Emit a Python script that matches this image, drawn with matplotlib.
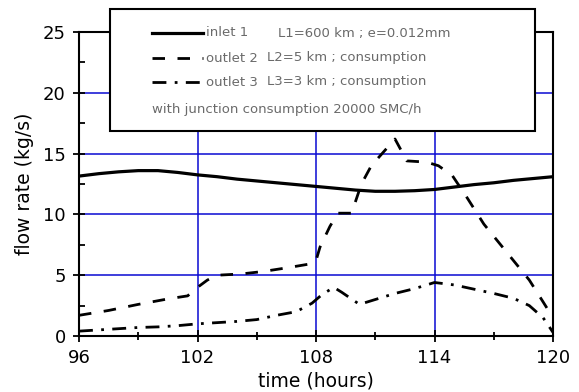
import matplotlib
matplotlib.use("Agg")
import matplotlib.pyplot as plt
from matplotlib.lines import Line2D
from matplotlib.patches import Rectangle
from matplotlib.ticker import MultipleLocator

# ---- data ----
t_inlet = [96, 97, 98, 99, 100, 101, 102, 103, 104, 105, 106, 107, 108,
           109, 110, 111, 112, 113, 114, 115, 116, 117, 118, 119, 120]
q_inlet = [13.15, 13.35, 13.5, 13.6, 13.6, 13.45, 13.25, 13.1, 12.9, 12.75,
           12.6, 12.45, 12.3, 12.15, 12.0, 11.9, 11.9, 11.95, 12.05, 12.25,
           12.45, 12.6, 12.8, 12.95, 13.1]

t_out2 = [96, 97.5, 99, 100.5, 101.5, 102, 102.5, 103, 104.2, 105.3, 106.5,
          107.6, 108, 108.2, 108.7, 109.1, 109.8, 110.3, 110.8, 112.0, 112.6,
          113.6, 114.2, 114.9, 115.6, 116.5, 117.6, 118.8, 119.5, 120]
q_out2 = [1.7, 2.1, 2.6, 3.05, 3.3, 4.0, 4.6, 5.0, 5.1, 5.3, 5.6,
          5.9, 6.2, 7.3, 9.0, 10.1, 10.1, 12.5, 14.0, 16.2, 14.4,
          14.3, 14.0, 13.2, 11.5, 9.2, 7.0, 4.6, 2.8, 1.5]

t_out3 = [96, 97, 98, 99, 100, 101, 102, 103, 104, 105, 106, 107, 107.8,
          108.3, 108.9, 109.3, 110.2, 111, 112, 113, 114, 115, 116, 117,
          118, 118.8, 119.5, 120]
q_out3 = [0.4, 0.5, 0.6, 0.7, 0.75, 0.85, 1.0, 1.1, 1.2, 1.35, 1.7, 2.0, 2.7,
          3.4, 4.0, 3.6, 2.6, 3.0, 3.5, 3.9, 4.4, 4.2, 3.85, 3.5,
          3.1, 2.5, 1.5, 0.3]

x_ticks = [96, 102, 108, 114, 120]
y_ticks = [0, 5, 10, 15, 20, 25]

legend_names = ["inlet 1", "outlet 2", "outlet 3"]
legend_info = ["L1=600 km ; e=0.012mm", "L2=5 km ; consumption",
               "L3=3 km ; consumption"]
legend_note = "with junction consumption 20000 SMC/h"

# ---- figure ----
plt.rcParams['font.family'] = ['DejaVu Sans']
fig = plt.figure(figsize=(5.79, 3.92), dpi=100)
ax = fig.add_axes([79 / 579, 1 - 336 / 392, (553 - 79) / 579, (336 - 32) / 392])

styles = [
    dict(color='black', lw=2.3, ls='-'),
    dict(color='black', lw=2.0, ls=(0, (4.5, 4.5))),
    dict(color='black', lw=2.0, ls=(0, (5, 3, 1, 3))),
]

ax.plot(t_inlet, q_inlet, **styles[0], zorder=3)
ax.plot(t_out2, q_out2, **styles[1], zorder=3)
ax.plot(t_out3, q_out3, **styles[2], zorder=3)

ax.set_xlim(96, 120)
ax.set_ylim(0, 25)
ax.set_xticks(x_ticks)
ax.set_yticks(y_ticks)
ax.xaxis.set_minor_locator(MultipleLocator(3))
ax.yaxis.set_minor_locator(MultipleLocator(2.5))
ax.grid(True, which='major', color='#0a0ad2', lw=1.1, zorder=1)
ax.tick_params(which='both', width=1.3, labelsize=13)
ax.tick_params(which='major', direction='inout', length=9)
ax.tick_params(axis='x', which='minor', direction='inout', length=6)
ax.tick_params(axis='y', which='minor', direction='in', length=4)
ax.tick_params(axis='y', pad=5)
ax.tick_params(axis='x', pad=5)
for s in ax.spines.values():
    s.set_linewidth(1.5)

ax.set_xlabel("time (hours)", fontsize=13.5, labelpad=3)
ax.set_ylabel("flow rate (kg/s)", fontsize=13.5, labelpad=6)

# ---- legend box (figure pixels) ----
W, H = 579, 392
def fx(px):
    return px / W
def fy(py):
    return 1 - py / H

box = Rectangle((fx(110), fy(131)), fx(535) - fx(110), fy(9) - fy(131),
                transform=fig.transFigure, facecolor='white',
                edgecolor='black', lw=1.5, zorder=10)
fig.patches.append(box)

rows_y = [33, 58, 82]
info_x = [278, 267, 267]
for i in range(3):
    ln = Line2D([fx(152), fx(203)], [fy(rows_y[i]), fy(rows_y[i])],
                transform=fig.transFigure, zorder=11, **styles[i])
    fig.lines.append(ln)
    fig.text(fx(206), fy(rows_y[i]), legend_names[i], fontsize=9.5,
             color='#6a6a6a', va='center', ha='left', zorder=12)
    fig.text(fx(info_x[i]), fy(rows_y[i]), legend_info[i], fontsize=9.5,
             color='#6a6a6a', va='center', ha='left', zorder=12)
fig.text(fx(152), fy(109), legend_note, fontsize=9.5, color='#6a6a6a',
         va='center', ha='left', zorder=12)

fig.savefig("out.png", dpi=100)
